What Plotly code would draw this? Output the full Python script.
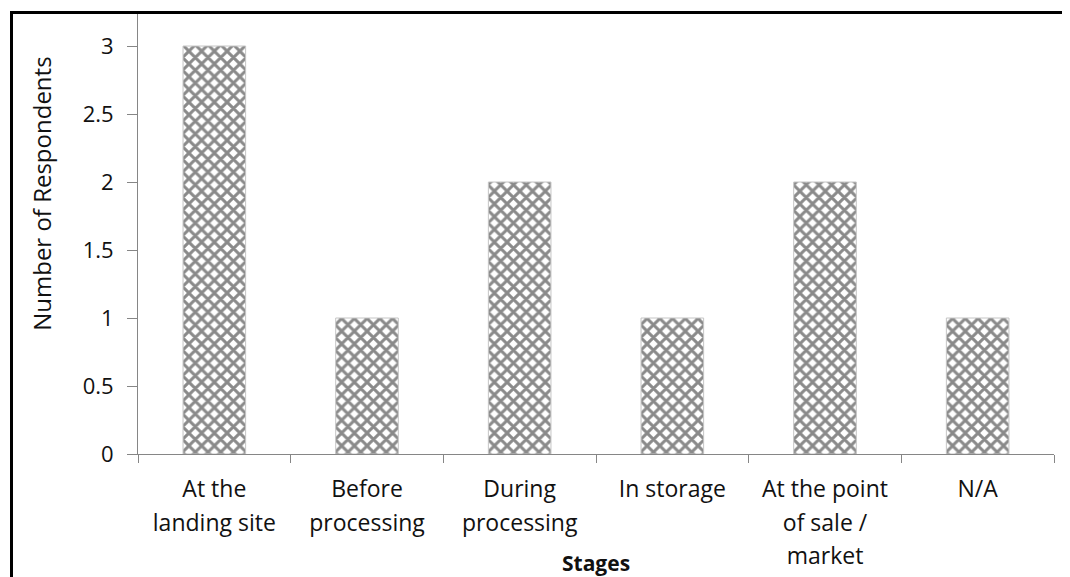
import plotly.graph_objects as go

# ---- data ----
categories = ["At the landing site", "Before processing", "During processing",
              "In storage", "At the point of sale / market", "N/A"]
tick_lines = [["At the", "landing site"], ["Before", "processing"], ["During", "processing"],
              ["In storage"], ["At the point", "of sale /", "market"], ["N/A"]]
respondents = [3, 1, 2, 1, 2, 1]
y_tick_vals = [0, 0.5, 1, 1.5, 2, 2.5, 3]
y_tick_text = ["0", "0.5", "1", "1.5", "2", "2.5", "3"]
y_title = "Number of Respondents"
x_title = "Stages"

FONT = "Open Sans, Noto Sans, sans-serif"
TXT = "#111111"
LBL = 23

def wrap(lines):
    return "<br>".join(f"<span style='font-size:{LBL}px'>{l}</span>" for l in lines)

tick_text = [wrap(t) for t in tick_lines]

fig = go.Figure()
fig.add_trace(go.Bar(
    x=categories, y=respondents,
    marker=dict(
        color="white",
        line=dict(color="#c4c4c4", width=1),
        pattern=dict(shape="x", fgcolor="#8a8a8a", bgcolor="#ffffff",
                     size=9, solidity=0.55, fillmode="replace"),
    ),
    hoverinfo="x+y",
))

# page body has an 8px margin, so the figure is 8px smaller than the window
fig.update_layout(
    width=1062, height=569,
    margin=dict(l=130, r=16, t=5, b=123),
    paper_bgcolor="white", plot_bgcolor="white",
    showlegend=False,
    bargap=0.59,
    font=dict(family=FONT, color=TXT),
)

fig.update_xaxes(
    type="category",
    tickmode="array", tickvals=categories, ticktext=tick_text,
    tickson="boundaries",
    ticks="outside", ticklen=8, tickcolor="#868686", tickwidth=1,
    showline=True, linecolor="#868686", linewidth=1,
    showgrid=False, zeroline=False,
    tickfont=dict(family=FONT, size=25.4, color=TXT),
    ticklabelstandoff=12,
)
fig.update_yaxes(
    range=[0, 3.243],
    tickmode="array", tickvals=y_tick_vals, ticktext=y_tick_text,
    ticks="outside", ticklen=10, tickcolor="#868686", tickwidth=1,
    showline=True, linecolor="#868686", linewidth=1,
    showgrid=False, zeroline=False,
    tickfont=dict(family=FONT, size=22, color=TXT),
    ticklabelstandoff=9,
)

fig.add_annotation(
    text=y_title, textangle=-90, showarrow=False,
    xref="paper", yref="paper", x=-0.1048, y=0.59,
    xanchor="center", yanchor="middle",
    font=dict(family=FONT, size=24, color=TXT),
)
fig.add_annotation(
    text=f"<b>{x_title}</b>", showarrow=False,
    xref="paper", yref="paper", x=0.5, y=-0.248,
    xanchor="center", yanchor="middle",
    font=dict(family=FONT, size=21, color=TXT),
)

# outer frame (left and top borders of the original figure box)
fig.add_shape(type="path", xref="paper", yref="paper",
              path="M -0.1381,-0.35 L -0.1381,1.0013 L 1.05,1.0013",
              line=dict(color="black", width=3))

fig.write_html("out.html")
